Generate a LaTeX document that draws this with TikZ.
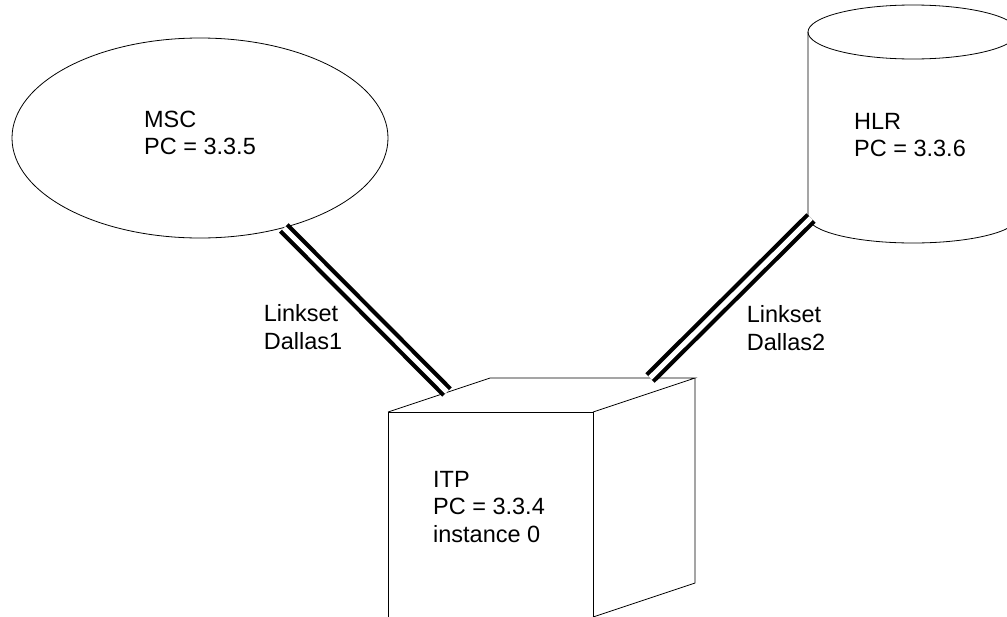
\documentclass[tikz,border=0pt]{standalone}
\usepackage{fontspec}
\setmainfont{Liberation Sans}
\usetikzlibrary{shapes.geometric}

\begin{document}
\begin{tikzpicture}[x=1pt,y=-1pt,line width=0.8pt]
		\clip (0,0) rectangle (1007,616);

		% network elements
		\node[ellipse,draw,minimum width=376pt,minimum height=200pt] (msc) at (200,138) {};

		\coordinate (hlrtl) at (808,32);
		\coordinate (hlrbl) at (808,217);
		\coordinate (hlrbr) at (1018,217);
		\coordinate (hlrtr) at (1018,32);
		\draw (hlrtl) -- (hlrbl) arc[start angle=180,end angle=0,x radius=105,y radius=26] -- (hlrtr);
		\draw (913,32) ellipse[x radius=105,y radius=27];

		\coordinate (fnw) at (388,412);
		\coordinate (fne) at (593,412);
		\coordinate (fse) at (593,617);
		\coordinate (fsw) at (388,617);
		\coordinate (bnw) at (490,378);
		\coordinate (bne) at (695,378);
		\coordinate (bse) at (695,583);
		\draw (fsw) -- (fnw) -- (fne) -- (fse);
		\draw (fnw) -- (bnw) -- (bne) -- (fne);
		\draw (bne) -- (bse) -- (fse);

		% texts
		\begin{scope}[every node/.style={align=left,inner sep=0pt,font=\fontsize{23.5}{27.5}\selectfont}]
			\node (msclabel) at (200,133) {MSC\\PC = 3.3.5};
			\node (hlrlabel) at (910,135) {HLR\\PC = 3.3.6};
			\node (itplabel) at (489,507) {ITP\\PC = 3.3.4\\instance 0};
			\node (dallas1) at (303,327) {Linkset\\Dallas1};
			\node (dallas2) at (786,328) {Linkset\\Dallas2};
		\end{scope}

		% linksets
		\coordinate (itpin1) at (447,392);
		\coordinate (itpin2) at (650,378);
		\coordinate (hlrout) at (811,218);
		\begin{scope}[every edge/.style={draw=black,line width=4.2pt,double=white,double distance=5pt}]
			\path (msc.-47) edge (itpin1);
			\path (hlrout) edge (itpin2);
		\end{scope}
\end{tikzpicture}
\end{document}
